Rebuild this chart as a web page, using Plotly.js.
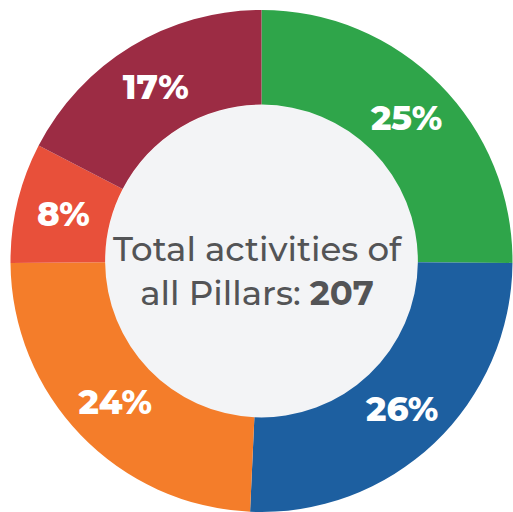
<!DOCTYPE html>
<html>
<head>
<meta charset="utf-8">
<script src="https://cdn.plot.ly/plotly-3.0.1.min.js"></script>
<style>html,body{margin:0;padding:0;background:#fff;}#chart{width:513px;height:512px;}</style>
</head>
<body>
<div id="chart"></div>
<script>
const pillars = ["Pillar 1", "Pillar 2", "Pillar 3", "Pillar 4", "Pillar 5"];
const activities = [52, 53, 50, 16, 36];
const colors = ["#2FA54A", "#1D5FA0", "#F47D2A", "#E8503A", "#9C2C44"];
const total = 207;

const W = 513, H = 512, cx = 262, cy = 262, R = 252, r = 157;

const trace = {
  type: "pie",
  labels: pillars,
  values: activities,
  sort: false,
  direction: "clockwise",
  rotation: 0,
  hole: r / R,
  marker: {colors: colors, line: {width: 0}},
  texttemplate: "%{percent:.0%}",
  textposition: "inside",
  insidetextorientation: "horizontal",
  textfont: {family: "Montserrat, 'Open Sans', sans-serif", size: 34, color: "#ffffff", weight: 800},
  hoverinfo: "label+value+percent",
  showlegend: false,
  domain: {x: [(cx - R) / W, (cx + R) / W], y: [(H - cy - R) / H, (H - cy + R) / H]}
};

const layout = {
  width: W, height: H,
  margin: {l: 0, r: 0, t: 0, b: 0},
  paper_bgcolor: "#ffffff",
  showlegend: false,
  shapes: [{
    type: "circle", xref: "paper", yref: "paper",
    x0: (cx - r) / W, x1: (cx + r) / W,
    y0: (H - cy - r) / H, y1: (H - cy + r) / H,
    fillcolor: "#F3F4F6", line: {width: 0}, layer: "below"
  }],
  annotations: [{
    xref: "paper", yref: "paper",
    x: (cx - 4) / W, y: (H - cy - 9) / H,
    xanchor: "center", yanchor: "middle",
    text: "Total activities of<br>all Pillars: <b>" + total + "</b>",
    showarrow: false,
    font: {family: "Montserrat, 'Open Sans', sans-serif", size: 34, color: "#535456", weight: 500},
    align: "center"
  }]
};

Plotly.newPlot("chart", [trace], layout, {displayModeBar: false, staticPlot: true});
</script>
</body>
</html>
